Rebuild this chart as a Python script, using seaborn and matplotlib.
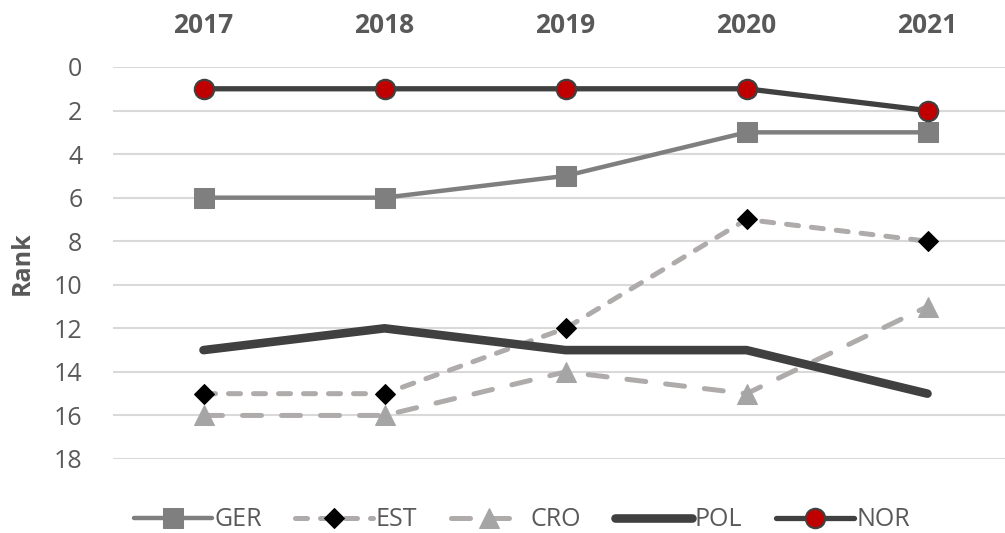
import matplotlib
matplotlib.use("Agg")
import matplotlib.pyplot as plt
import seaborn as sns
import pandas as pd

# data
years = ["2017", "2018", "2019", "2020", "2021"]
ger = [6, 6, 5, 3, 3]
est = [15, 15, 12, 7, 8]
cro = [16, 16, 14, 15, 11]
pol = [13, 12, 13, 13, 15]
nor = [1, 1, 1, 1, 2]
y_ticks = [0, 2, 4, 6, 8, 10, 12, 14, 16, 18]

sns.set_style("white")
plt.rcParams["font.family"] = ["Open Sans", "DejaVu Sans"]
txt = "#595959"

fig = plt.figure(figsize=(10.05, 5.33), dpi=100)
ax = fig.add_axes([113 / 1005, 74 / 533, 905 / 1005, 392 / 533])

sns.lineplot(x=years, y=ger, ax=ax, color="#7f7f7f", lw=3.2, marker="s",
             markersize=14, markeredgecolor="#7f7f7f", label="GER", sort=False)
sns.lineplot(x=years, y=est, ax=ax, color="#afabab", lw=3.6, marker="D",
             markersize=10, markerfacecolor="black", markeredgecolor="black",
             label="EST", sort=False)
sns.lineplot(x=years, y=cro, ax=ax, color="#afabab", lw=3.6, marker="^",
             markersize=14, markerfacecolor="#a5a5a5", markeredgecolor="#a5a5a5",
             label="CRO", sort=False)
sns.lineplot(x=years, y=pol, ax=ax, color="#404040", lw=6.2, label="POL",
             sort=False)
sns.lineplot(x=years, y=nor, ax=ax, color="#404040", lw=3.8, marker="o",
             markersize=14, markerfacecolor="#c00000", markeredgecolor="#404040",
             markeredgewidth=1.5, label="NOR", sort=False)

lines = ax.get_lines()
lines[1].set_dashes([2.4, 2.6])
lines[1].set_dash_capstyle("round")
lines[2].set_dashes([3.8, 4.0])
lines[2].set_dash_capstyle("round")
lines[3].set_solid_capstyle("round")

ax.set_xlim(-0.5, 4.5)
ax.set_ylim(18, 0)
ax.set_yticks(y_ticks)
ax.yaxis.grid(True, color="#d9d9d9", lw=1.5)
ax.set_axisbelow(True)
for s in ax.spines.values():
    s.set_visible(False)

ax.xaxis.tick_top()
ax.tick_params(axis="x", length=0, pad=20, labelsize=19, labelcolor=txt)
for t in ax.get_xticklabels():
    t.set_fontweight("bold")
ax.tick_params(axis="y", length=0, pad=22, labelsize=18, labelcolor=txt)
ax.set_xlabel("")
ax.set_ylabel("Rank", fontsize=18, fontweight="bold", color=txt, labelpad=14)

leg = ax.legend(loc="center", bbox_to_anchor=(0.452, -0.155),
                ncol=5, frameon=False, fontsize=18, handlelength=3.1,
                columnspacing=1.35, handletextpad=0.1, borderaxespad=0)
for t in leg.get_texts():
    t.set_color(txt)

fig.savefig("out.png", dpi=100)
